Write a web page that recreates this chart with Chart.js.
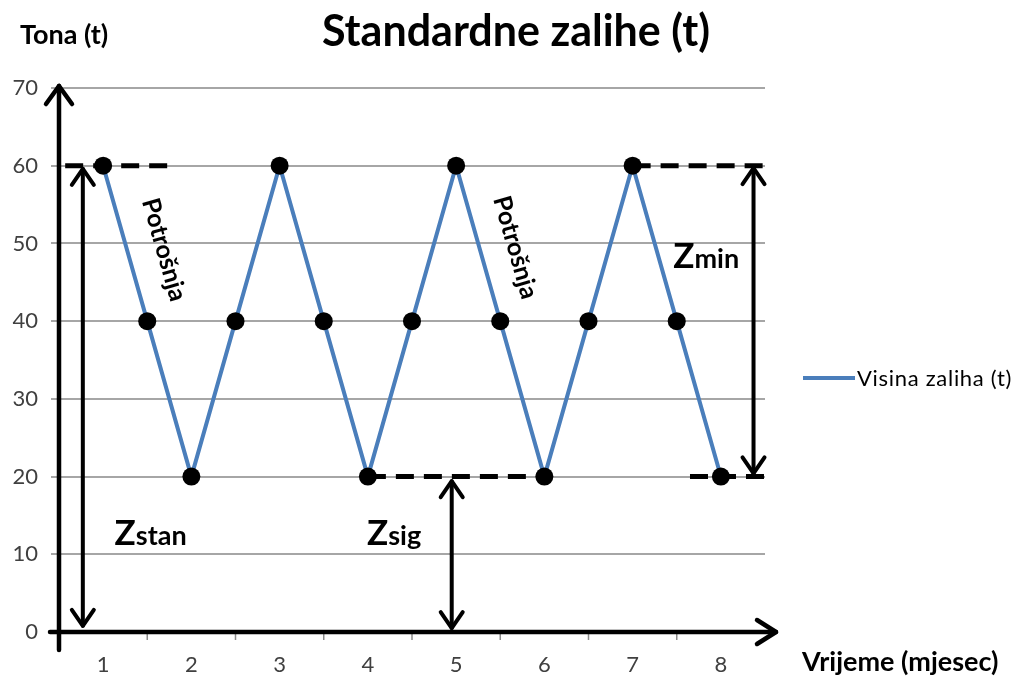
<!DOCTYPE html>
<html>
<head>
<meta charset="utf-8">
<script src="https://cdn.jsdelivr.net/npm/chart.js@4"></script>
<style>
  html, body { margin: 0; padding: 0; background: #fff; }
  #wrap { width: 1016px; height: 677px; }
</style>
</head>
<body>
<div id="wrap"><canvas id="graphic"></canvas></div>
<script>
const months = [1, 1.5, 2, 2.5, 3, 3.5, 4, 4.5, 5, 5.5, 6, 6.5, 7, 7.5, 8];
const stock = [60, 40, 20, 40, 60, 40, 20, 40, 60, 40, 20, 40, 60, 40, 20];
const monthTicks = [1, 2, 3, 4, 5, 6, 7, 8];
const seriesName = 'Visina zaliha (t)';

// guides drawn over the plot, in data units
const dashes = [[0.57, 1.79, 60], [4, 6, 20], [7, 8.5, 60], [7.65, 8.5, 20]]; // x from, x to, y
const spans = [[0.77, 0.8, 59.6], [4.95, 0.5, 19.4], [8.37, 20.4, 59.7]];     // x, y from, y to
const zLabels = [['stan', 1.13, 11.2], ['sig', 3.99, 11.2], ['min', 7.46, 46.8]];
const slopeLabels = [[1.69, 49.2, 0], [5.67, 49.5, 8]]; // x, y, segment start index

const F = 'Lato, "Open Sans", sans-serif';
const blue = '#4a7ebb';

function arrowHead(ctx, x, y, dx, dy, len, half) {
  const px = -dy, py = dx;
  ctx.beginPath();
  ctx.moveTo(x - dx * len + px * half, y - dy * len + py * half);
  ctx.lineTo(x, y);
  ctx.lineTo(x - dx * len - px * half, y - dy * len - py * half);
  ctx.stroke();
}

function seg(ctx, x1, y1, x2, y2) {
  ctx.beginPath();
  ctx.moveTo(x1, y1);
  ctx.lineTo(x2, y2);
  ctx.stroke();
}

const decor = {
  id: 'decor',
  beforeDatasetsDraw(chart) {
    const ctx = chart.ctx, xs = chart.scales.x, ys = chart.scales.y, a = chart.chartArea;
    ctx.save();
    // small marks between months
    ctx.strokeStyle = '#8c8c8c';
    ctx.lineWidth = 1.5;
    monthTicks.slice(0, -1).forEach(m => {
      const x = xs.getPixelForValue(m + 0.5);
      seg(ctx, x, a.bottom, x, a.bottom + 8);
    });

    // dashed levels
    ctx.strokeStyle = '#000';
    ctx.lineWidth = 5;
    ctx.setLineDash([18, 10]);
    dashes.forEach(d => {
      const y = ys.getPixelForValue(d[2]);
      seg(ctx, xs.getPixelForValue(d[0]), y, xs.getPixelForValue(d[1]), y);
    });
    ctx.setLineDash([]);

    // axes with arrows
    ctx.lineWidth = 4.5;
    ctx.lineCap = 'round';
    ctx.lineJoin = 'round';
    seg(ctx, a.left, a.bottom + 18, a.left, a.top - 2);
    arrowHead(ctx, a.left, a.top - 2, 0, -1, 18, 13);
    seg(ctx, a.left - 9, a.bottom, a.right + 11, a.bottom);
    arrowHead(ctx, a.right + 11, a.bottom, 1, 0, 19, 12);

    // double arrows
    ctx.lineWidth = 4;
    spans.forEach(s => {
      const x = xs.getPixelForValue(s[0]);
      const y1 = ys.getPixelForValue(s[1]), y2 = ys.getPixelForValue(s[2]);
      seg(ctx, x, y1, x, y2);
      const dir = y2 < y1 ? -1 : 1;
      arrowHead(ctx, x, y2, 0, dir, 16, 11);
      arrowHead(ctx, x, y1, 0, -dir, 16, 11);
    });
    ctx.restore();
  },
  afterDraw(chart) {
    const ctx = chart.ctx, xs = chart.scales.x, ys = chart.scales.y;
    ctx.save();
    ctx.fillStyle = '#000';

    ctx.textAlign = 'center';
    ctx.textBaseline = 'alphabetic';
    ctx.font = 'bold 43px ' + F;
    ctx.fillText('Standardne zalihe (t)', 516, 46);

    ctx.textAlign = 'left';
    ctx.font = 'bold 27px ' + F;
    ctx.fillText('Tona (t)', 20, 44);
    ctx.textBaseline = 'middle';
    ctx.fillText('Vrijeme (mjesec)', 802, 662);

    // legend
    ctx.strokeStyle = blue;
    ctx.lineWidth = 4;
    seg(ctx, 803, 378, 855, 378);
    ctx.font = '22px ' + F;
    ctx.letterSpacing = '0.7px';
    ctx.fillStyle = '#000';
    ctx.fillText(seriesName, 857, 379);
    ctx.letterSpacing = '0px';

    // Z labels
    ctx.textBaseline = 'alphabetic';
    zLabels.forEach(z => {
      const x = xs.getPixelForValue(z[1]), y = ys.getPixelForValue(z[2]);
      ctx.font = 'bold 35px ' + F;
      ctx.fillText('Z', x, y);
      const w = ctx.measureText('Z').width;
      ctx.font = 'bold 27px ' + F;
      ctx.fillText(z[0], x + w, y);
    });

    // rotated "Potrošnja" along the falling segments
    slopeLabels.forEach(s => {
      const i = s[2];
      const ang = Math.atan2(
        ys.getPixelForValue(stock[i + 1]) - ys.getPixelForValue(stock[i]),
        xs.getPixelForValue(months[i + 1]) - xs.getPixelForValue(months[i]));
      ctx.save();
      ctx.translate(xs.getPixelForValue(s[0]), ys.getPixelForValue(s[1]));
      ctx.rotate(ang);
      ctx.textAlign = 'center';
      ctx.textBaseline = 'middle';
      ctx.font = 'bold 25px ' + F;
      ctx.fillText('Potrošnja', 0, 0);
      ctx.restore();
    });
    ctx.restore();
  }
};

new Chart(document.getElementById('graphic').getContext('2d'), {
  type: 'line',
  data: {
    datasets: [{
      label: seriesName,
      data: months.map((m, i) => ({ x: m, y: stock[i] })),
      borderColor: blue,
      borderWidth: 4,
      tension: 0,
      pointRadius: 9,
      pointBackgroundColor: '#000',
      pointBorderColor: '#000',
      pointBorderWidth: 0
    }]
  },
  options: {
    responsive: true,
    maintainAspectRatio: false,
    animation: false,
    layout: { padding: { top: 88, right: 251, left: 0, bottom: 0 } },
    plugins: {
      legend: { display: false },
      tooltip: { enabled: false }
    },
    scales: {
      x: {
        type: 'linear',
        min: 0.5,
        max: 8.5,
        afterBuildTicks: scale => { scale.ticks = monthTicks.map(v => ({ value: v })); },
        afterFit: scale => { scale.height = 45; },
        grid: { display: false, drawTicks: false },
        border: { display: false },
        ticks: { autoSkip: false, padding: 20, color: '#404040', font: { family: F, size: 22 } }
      },
      y: {
        min: 0,
        max: 70,
        afterFit: scale => { scale.width = 59; },
        grid: { color: '#a6a6a6', lineWidth: 2, tickLength: 8 },
        border: { display: false },
        ticks: { stepSize: 10, padding: 13, color: '#404040', font: { family: F, size: 22 } }
      }
    }
  },
  plugins: [decor]
});
</script>
</body>
</html>
